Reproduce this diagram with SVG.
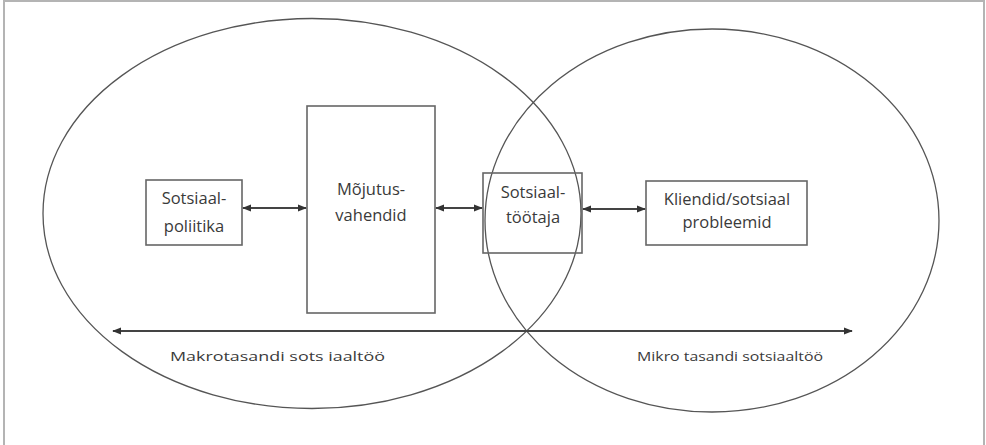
<svg xmlns="http://www.w3.org/2000/svg" width="986" height="445" viewBox="0 0 986 445">
<style>
.frame{fill:none;stroke:#b4b4b4;stroke-width:2}
.ell{fill:none;stroke:#555;stroke-width:1.3}
.box{fill:#fff;stroke:#666;stroke-width:1.6}
.box2{fill:none;stroke:#666;stroke-width:1.6}
.conn{stroke:#444;stroke-width:1.8;fill:none;marker-start:url(#ah);marker-end:url(#ah)}
text{font-family:"Open Sans","Liberation Sans",sans-serif;fill:#3a3a3a;text-anchor:middle}
.lbl{font-size:16.5px}
.small{font-size:13px;text-anchor:start}
</style>
<defs>
<marker id="ah" viewBox="0 0 10 10" refX="9" refY="5" markerWidth="5" markerHeight="5" orient="auto-start-reverse" markerUnits="strokeWidth">
<path d="M0,1 L10,5 L0,9 Z" fill="#333"/>
</marker>
</defs>
<path class="frame" d="M4,446 L4,1 L984,1 L984,446"/>
<g id="ellipse-makro"><ellipse class="ell" cx="312" cy="213.5" rx="269" ry="195"/></g>
<g id="ellipse-mikro"><ellipse class="ell" cx="712" cy="220.5" rx="227" ry="191.5"/></g>
<g id="node-sotsiaalpoliitika">
<rect class="box" x="146" y="180" width="96" height="65"/>
<text class="lbl" x="194" y="204">Sotsiaal-</text>
<text class="lbl" x="194" y="232">poliitika</text>
</g>
<g id="node-mojutusvahendid">
<rect class="box" x="307" y="106" width="128" height="207"/>
<text class="lbl" x="371" y="195">Mõjutus-</text>
<text class="lbl" x="371" y="221">vahendid</text>
</g>
<g id="node-sotsiaaltootaja">
<rect class="box2" x="483" y="173" width="99" height="80"/>
<text class="lbl" x="533" y="198">Sotsiaal-</text>
<text class="lbl" x="533" y="223">töötaja</text>
</g>
<g id="node-kliendid">
<rect class="box" x="646" y="181" width="161" height="64"/>
<text class="lbl" x="727" y="205">Kliendid/sotsiaal</text>
<text class="lbl" x="727" y="228">probleemid</text>
</g>
<g id="connectors">
<line class="conn" x1="243" y1="208" x2="306" y2="208"/>
<line class="conn" x1="436" y1="208" x2="482" y2="208"/>
<line class="conn" x1="583" y1="209" x2="645" y2="209"/>
<line class="conn" x1="113" y1="331" x2="852" y2="331"/>
</g>
<g id="labels">
<text class="small" x="170" y="361" textLength="215" lengthAdjust="spacingAndGlyphs">Makrotasandi sots iaaltöö</text>
<text class="small" x="637" y="361" textLength="186" lengthAdjust="spacingAndGlyphs">Mikro tasandi sotsiaaltöö</text>
</g>
</svg>
